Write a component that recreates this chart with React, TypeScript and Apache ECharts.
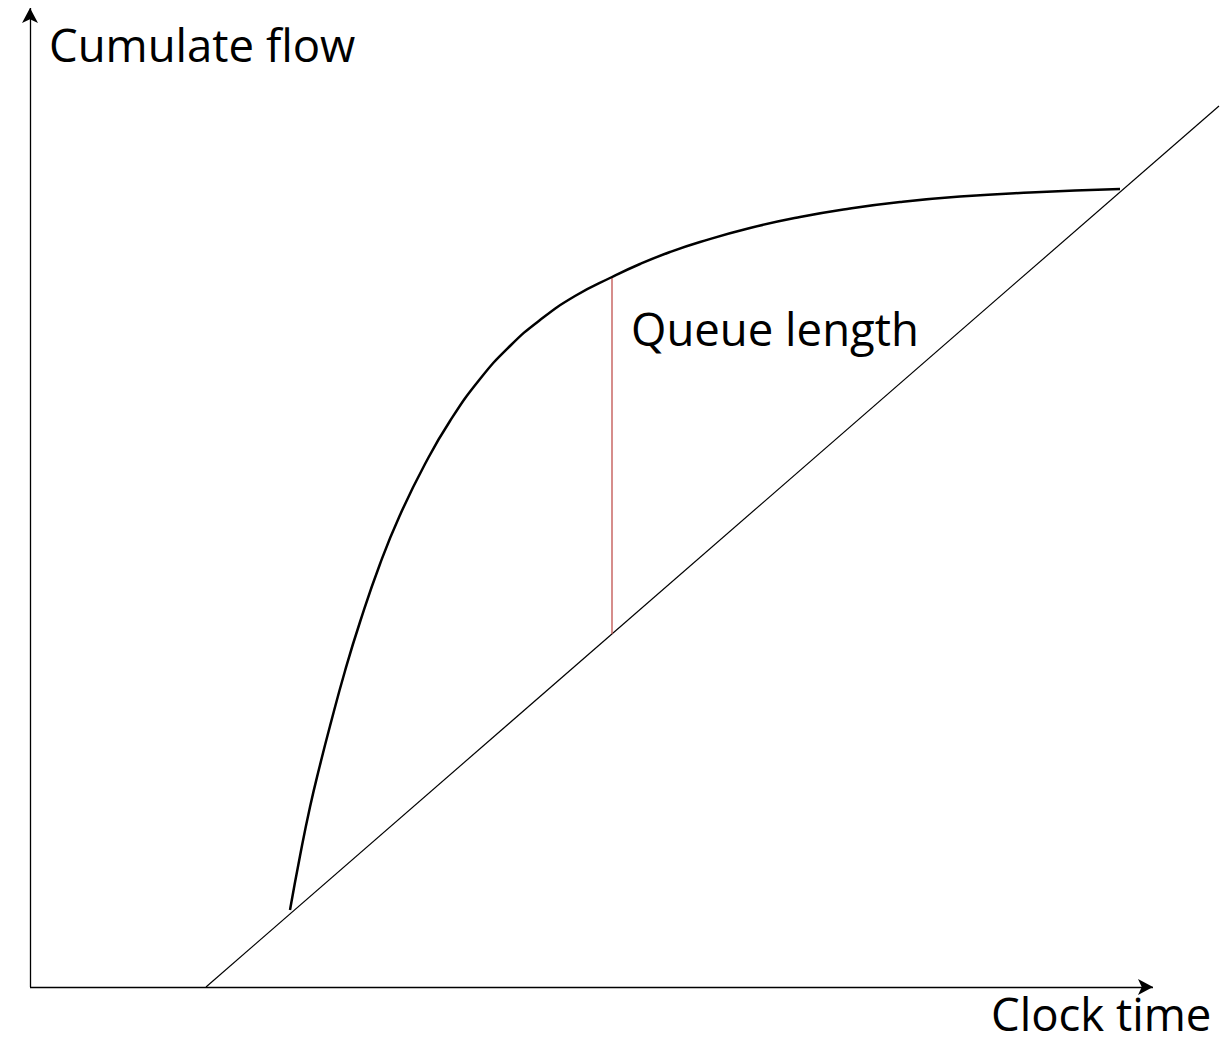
import React, { useEffect, useRef } from "react";
import * as echarts from "echarts";

// Data units: x = clock time, y = cumulative flow (arbitrary units)
const arrivalCurve: [number, number][] = [
  [260, 77], [270, 131], [280, 180], [290, 222], [300, 261], [315, 316],
  [330, 365], [350, 423], [370, 472], [395, 523], [420, 566], [450, 608],
  [480, 641], [510, 667], [545, 691], [582, 710], [610, 723], [640, 735],
  [670, 745], [720, 759], [770, 770], [820, 778.5], [870, 785], [930, 790.5],
  [1000, 794.5], [1090, 798],
];
const departureLine: [number, number][] = [
  [176, 0],
  [1189, 881],
];
const queueSegment: [number, number][] = [
  [582, 353],
  [582, 710],
];
const xAxisEnd = 1123;
const yAxisEnd = 979;
const xMax = 1199;
const yMax = 979;

const yAxisTitle = "Cumulate flow";
const xAxisTitle = "Clock time";
const queueLabel = "Queue length";

export default function App() {
  const ref = useRef<HTMLDivElement>(null);
  useEffect(() => {
    if (!ref.current) return;
    const chart = echarts.init(ref.current, undefined, { renderer: "svg" });
    const font = "'Open Sans', 'Noto Sans', sans-serif";
    chart.setOption({
      animation: false,
      backgroundColor: "#ffffff",
      grid: { left: 30, top: 8, width: 1199, height: 979 },
      xAxis: { type: "value", min: 0, max: xMax, show: false },
      yAxis: { type: "value", min: 0, max: yMax, show: false },
      graphic: [
        {
          type: "text",
          left: 49,
          top: 21,
          style: { text: yAxisTitle, fontSize: 45.5, fontFamily: font, fill: "#000" },
        },
        {
          type: "text",
          left: 631,
          top: 305,
          style: { text: queueLabel, fontSize: 45.5, fontFamily: font, fill: "#000" },
        },
        {
          type: "text",
          left: 991,
          top: 990,
          style: { text: xAxisTitle, fontSize: 45.5, fontFamily: font, fill: "#000" },
        },
      ],
      series: [
        {
          type: "line",
          data: [],
          silent: true,
          markLine: {
            silent: true,
            symbol: ["none", "arrow"],
            symbolSize: [12, 15],
            label: { show: false },
            emphasis: { disabled: true },
            lineStyle: { color: "#000", width: 1.3, type: "solid" },
            data: [
              [{ coord: [0, 0] }, { coord: [0, yAxisEnd] }],
              [{ coord: [0, 0] }, { coord: [xAxisEnd, 0] }],
            ],
          },
        },
        {
          type: "line",
          data: departureLine,
          symbol: "none",
          silent: true,
          lineStyle: { color: "#000", width: 1.2 },
        },
        {
          type: "line",
          data: queueSegment,
          symbol: "none",
          silent: true,
          lineStyle: { color: "#c0504d", width: 1.3 },
        },
        {
          type: "line",
          data: arrivalCurve,
          symbol: "none",
          smooth: 0.5,
          silent: true,
          lineStyle: { color: "#000", width: 2.5 },
        },
      ],
    });
    return () => chart.dispose();
  }, []);
  return (
    <div
      ref={ref}
      style={{ position: "fixed", left: 0, top: 0, width: 1229, height: 1039 }}
    />
  );
}
